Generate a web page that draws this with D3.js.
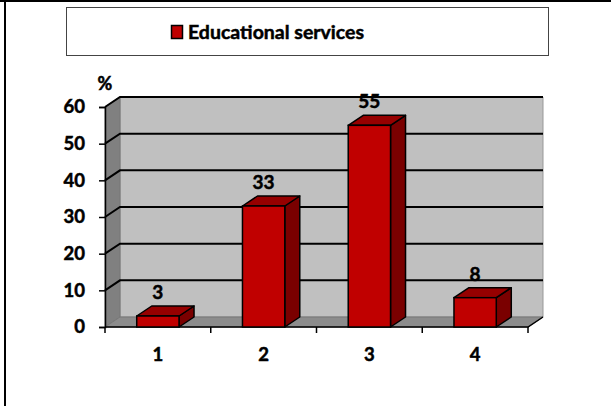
<!DOCTYPE html>
<html>
<head>
<meta charset="utf-8">
<script src="https://cdn.jsdelivr.net/npm/d3@7"></script>
<style>
  body { margin: 0; background: #fff; }
  text { font-family: Lato, "Open Sans", sans-serif; font-weight: bold; fill: #000; stroke: #000; stroke-width: 0.5px; }
</style>
</head>
<body>
<svg id="chart"></svg>
<script>
// data
const categories = ["1", "2", "3", "4"];
const values = [3, 33, 55, 8];
const yTicks = [0, 10, 20, 30, 40, 50, 60];
const seriesName = "Educational services";
const unitLabel = "%";

const width = 611, height = 406;
const depth = {dx: 15, dy: -10};

const svg = d3.select("#chart")
    .attr("width", width)
    .attr("height", height);

// outer frame (left and top edges only)
svg.append("line").attr("x1", 5).attr("x2", 5).attr("y1", 0).attr("y2", height)
    .attr("stroke", "#000").attr("stroke-width", 2);
svg.append("line").attr("x1", 0).attr("x2", width).attr("y1", 1).attr("y2", 1)
    .attr("stroke", "#000").attr("stroke-width", 2);

// legend
const legend = svg.append("g");
legend.append("rect")
    .attr("x", 66.5).attr("y", 7.5).attr("width", 482).attr("height", 48)
    .attr("fill", "#fff").attr("stroke", "#444").attr("stroke-width", 1);
legend.append("rect")
    .attr("x", 171.5).attr("y", 25.5).attr("width", 11).attr("height", 13)
    .attr("fill", "#c00000").attr("stroke", "#000").attr("stroke-width", 1.5);
legend.append("text")
    .attr("x", 188).attr("y", 38.5)
    .attr("font-size", 19.5)
    .text(seriesName);

// scales (front plane)
const x = d3.scaleBand()
    .domain(categories)
    .range([105, 528]);

const y = d3.scaleLinear()
    .domain([0, 60])
    .range([327, 107]);

const x0 = x.range()[0], x1 = x.range()[1];
const yBase = y(0), yTop = y(60);

const pts = a => a.map(p => p.join(",")).join(" ");

// back wall
svg.append("polygon")
    .attr("points", pts([[x0 + depth.dx, yTop + depth.dy], [x1 + depth.dx, yTop + depth.dy],
        [x1 + depth.dx, yBase + depth.dy], [x0 + depth.dx, yBase + depth.dy]]))
    .attr("fill", "#c0c0c0").attr("stroke", "#999").attr("stroke-width", 1);

// side wall
svg.append("polygon")
    .attr("points", pts([[x0, yTop], [x0 + depth.dx, yTop + depth.dy],
        [x0 + depth.dx, yBase + depth.dy], [x0, yBase]]))
    .attr("fill", "#808080").attr("stroke", "#777").attr("stroke-width", 1);

// floor
svg.append("polygon")
    .attr("points", pts([[x0, yBase], [x0 + depth.dx, yBase + depth.dy],
        [x1 + depth.dx, yBase + depth.dy], [x1, yBase]]))
    .attr("fill", "#8c8c8c").attr("stroke", "#777").attr("stroke-width", 1);

// gridlines
const grid = svg.append("g").attr("stroke", "#000").attr("stroke-width", 2).attr("fill", "none");
yTicks.filter(d => d > 0).forEach(d => {
    grid.append("polyline")
        .attr("points", pts([[x0, y(d)], [x0 + depth.dx, y(d) + depth.dy], [x1 + depth.dx, y(d) + depth.dy]]));
});

// y axis
const yAxis = g => g
    .attr("transform", `translate(${x0},0)`)
    .call(d3.axisLeft(y).tickValues(yTicks).tickSize(6).tickPadding(14))
    .call(g => g.select(".domain").attr("stroke", "#000").attr("stroke-width", 1.5))
    .call(g => g.selectAll(".tick line").attr("stroke", "#000").attr("stroke-width", 1.5))
    .call(g => g.selectAll(".tick text")
        .attr("font-size", 18.5).attr("font-family", "Lato, sans-serif").attr("font-weight", "bold"));
svg.append("g").call(yAxis);

svg.append("text")
    .attr("x", 105).attr("y", 90)
    .attr("text-anchor", "middle")
    .attr("font-size", 18)
    .text(unitLabel);

// x axis
const xAxis = g => g
    .attr("transform", `translate(0,${yBase})`)
    .call(d3.axisBottom(x).tickSize(0).tickPadding(21))
    .call(g => g.select(".domain").remove())
    .call(g => g.selectAll(".tick text")
        .attr("font-size", 18.5).attr("font-family", "Lato, sans-serif").attr("font-weight", "bold"));
svg.append("g").call(xAxis);

// category separators and front floor edge
const edge = svg.append("g").attr("stroke", "#000").attr("stroke-width", 1.5).attr("fill", "none");
edge.append("polyline")
    .attr("points", pts([[x0, yBase], [x1, yBase], [x1 + depth.dx, yBase + depth.dy]]));
categories.forEach(c => {
    edge.append("line").attr("x1", x(c)).attr("x2", x(c)).attr("y1", yBase).attr("y2", yBase + 6);
});
edge.append("line").attr("x1", x1).attr("x2", x1).attr("y1", yBase).attr("y2", yBase + 6);

// bars
const barW = x.bandwidth() * 0.4;
const bars = svg.append("g")
    .selectAll("g")
    .data(values.map((v, i) => ({cat: categories[i], value: v})))
    .join("g");

bars.each(function(d) {
    const g = d3.select(this);
    const bx = x(d.cat) + (x.bandwidth() - barW) / 2;
    const by = y(d.value);
    // side
    g.append("polygon")
        .attr("points", pts([[bx + barW, by], [bx + barW + depth.dx, by + depth.dy],
            [bx + barW + depth.dx, yBase + depth.dy], [bx + barW, yBase]]))
        .attr("fill", "#7a0000").attr("stroke", "#000").attr("stroke-width", 1.5)
        .attr("stroke-linejoin", "round");
    // top
    g.append("polygon")
        .attr("points", pts([[bx, by], [bx + depth.dx, by + depth.dy],
            [bx + barW + depth.dx, by + depth.dy], [bx + barW, by]]))
        .attr("fill", "#960000").attr("stroke", "#000").attr("stroke-width", 1.5)
        .attr("stroke-linejoin", "round");
    // front
    g.append("rect")
        .attr("x", bx).attr("y", by).attr("width", barW).attr("height", yBase - by)
        .attr("fill", "#c00000").attr("stroke", "#000").attr("stroke-width", 1.5);
    // label
    g.append("text")
        .attr("x", bx + barW / 2)
        .attr("y", by + depth.dy - 7)
        .attr("text-anchor", "middle")
        .attr("font-size", 19)
        .text(d.value);
});
</script>
</body>
</html>
